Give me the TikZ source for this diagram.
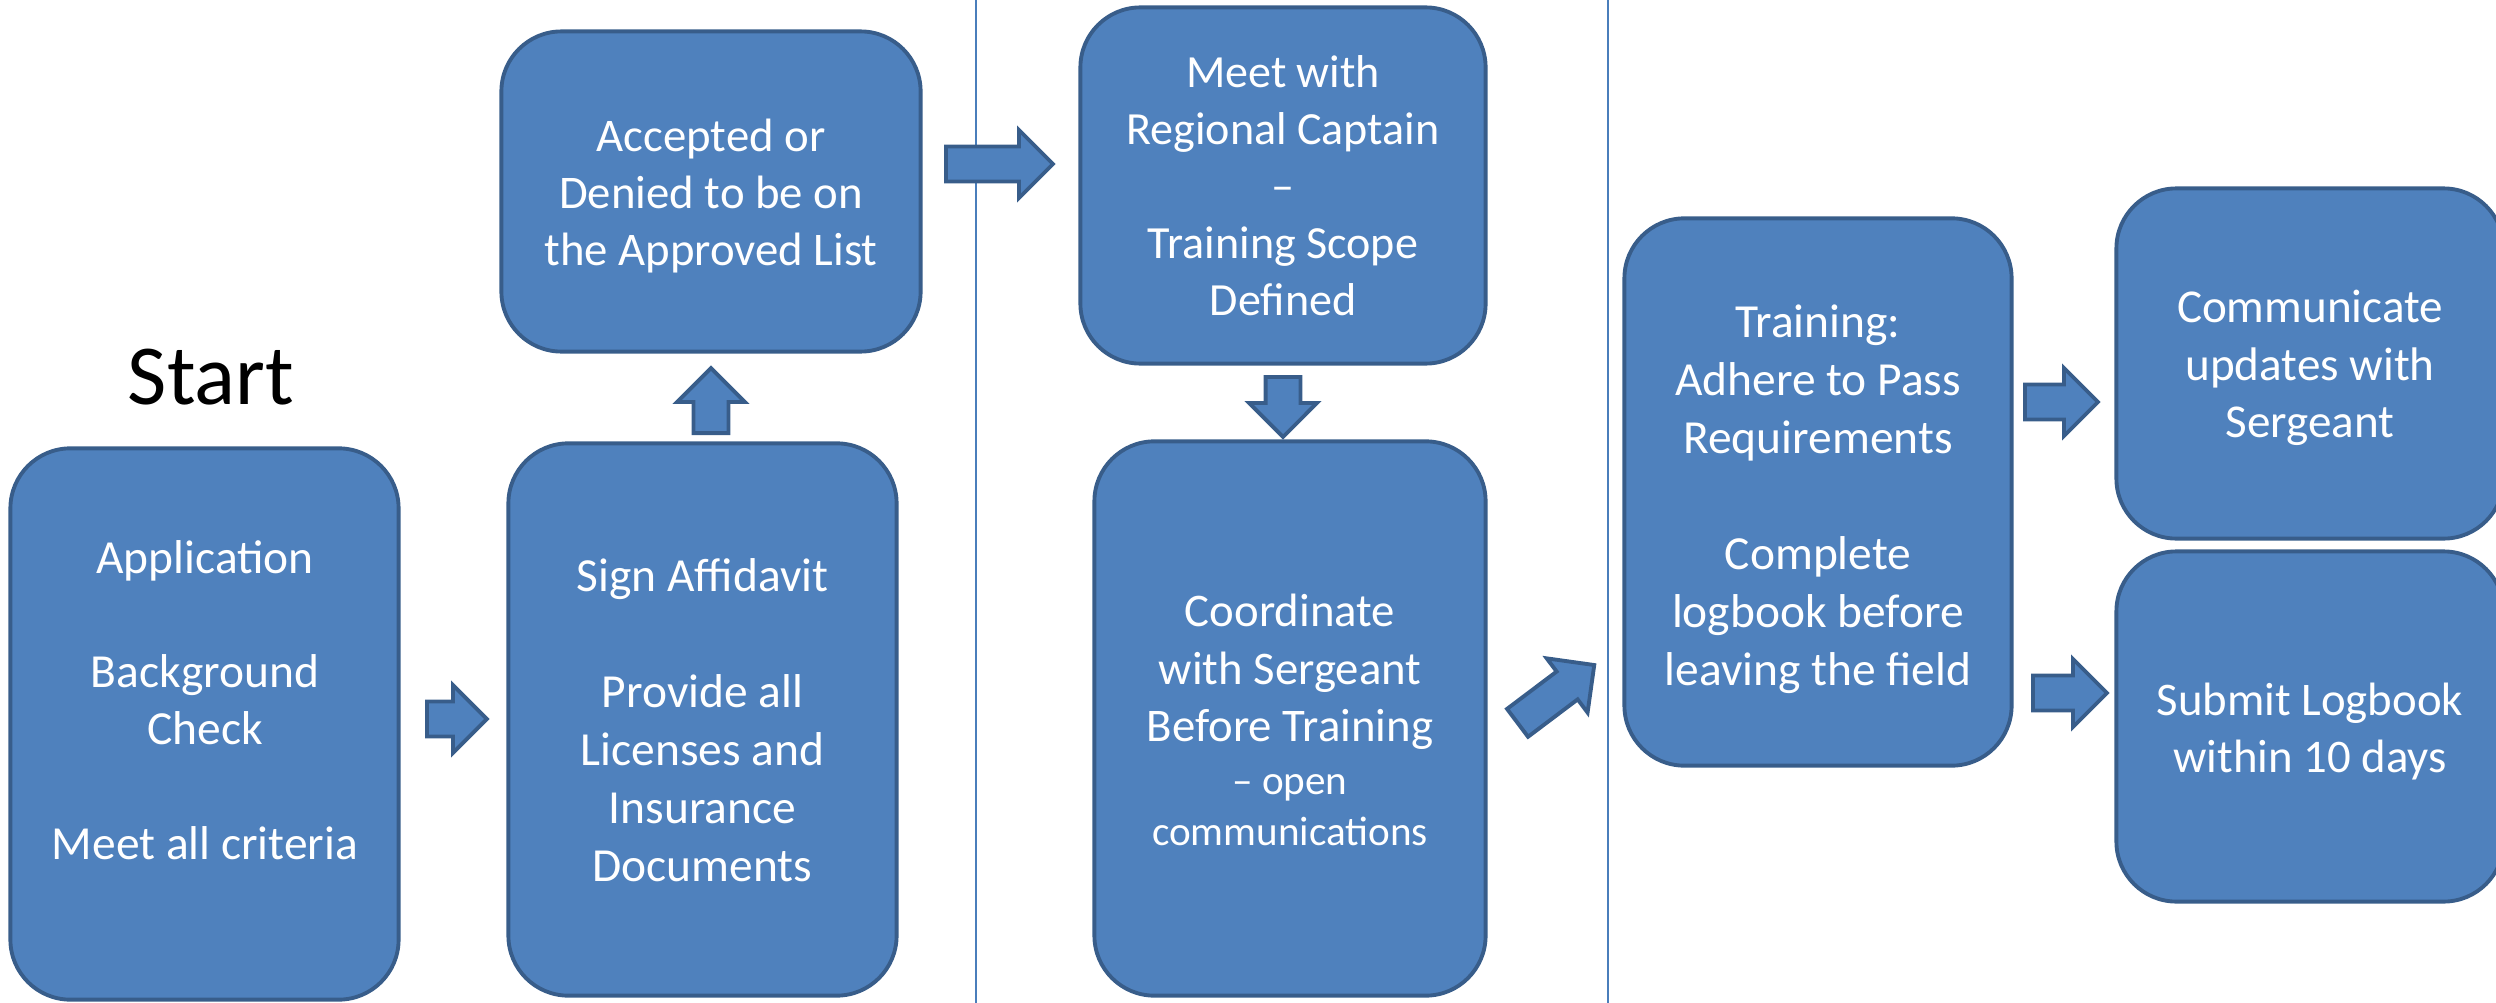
\documentclass[tikz,border=0pt]{standalone}
\usepackage{fontspec}
\setmainfont{Carlito}
\usetikzlibrary{shapes.arrows}
\definecolor{boxfill}{HTML}{4F81BD}
\definecolor{boxline}{HTML}{385D8A}
\definecolor{sepline}{HTML}{4A7EBB}
\newcommand{\fsz}[2]{\fontsize{#1}{#2}\selectfont}
\tikzset{
  stepbox/.style={draw=boxline,fill=boxfill,line width=1.1pt,rounded corners=0.6cm,inner sep=0pt},
  boxtext/.style={text=white,align=center,inner sep=0pt},
  blockarrow/.style={shape=single arrow,draw=boxline,fill=boxfill,line width=1.1pt,
    single arrow head extend=0.165cm,single arrow tip angle=90,
    inner xsep=0pt,inner ysep=0.155cm,anchor=tail}
}
\begin{document}
\begin{tikzpicture}[x=0.01cm,y=-0.01cm]
\useasboundingbox (0,0) rectangle (2496,1003);
\clip (0,0) rectangle (2496,1003);
%column separators
\draw[sepline,line width=0.02cm](976,0)--(976,1003);
\draw[sepline,line width=0.02cm](1608,0)--(1608,1003);
%start
\node[font=\fsz{24.3}{28}] (start) at (211,377) {Start};
%boxes
\node[stepbox,minimum width=3.88cm,minimum height=5.51cm] (app) at (204.5,724) {};
\node[stepbox,minimum width=3.88cm,minimum height=5.52cm] (sign) at (702.5,719.5) {};
\node[stepbox,minimum width=4.19cm,minimum height=3.20cm] (accept) at (711,191.5) {};
\node[stepbox,minimum width=4.05cm,minimum height=3.56cm] (meet) at (1283,185.5) {};
\node[stepbox,minimum width=3.91cm,minimum height=5.54cm] (coord) at (1290,718.5) {};
\node[stepbox,minimum width=3.87cm,minimum height=5.47cm] (train) at (1818,492) {};
\node[stepbox,minimum width=3.87cm,minimum height=3.50cm] (comm) at (2310,363.5) {};
\node[stepbox,minimum width=3.87cm,minimum height=3.50cm] (submit) at (2310,726.5) {};
%box texts
\node[boxtext,font=\fsz{13.5}{16.3}] (apptxt) at (205,700) {Application\\[16.3pt]Background\\Check\\[16.3pt]Meet all criteria};
\node[boxtext,font=\fsz{13.5}{16.5}] (signtxt) at (702.5,720) {Sign Affidavit\\[16.5pt]Provide all\\Licenses and\\Insurance\\Documents};
\node[boxtext,font=\fsz{13.3}{16.2}] (accepttxt) at (711,196) {Accepted or\\Denied to be on\\the Approved List};
\node[boxtext,font=\fsz{13.1}{16.2}] (meettxt) at (1283,186) {Meet with\\Regional Captain\\--\\Training Scope\\Defined};
\node[boxtext,font=\fsz{13.3}{16.5}] (coordtxt) at (1290,720) {Coordinate\\with Sergeant\\[-0.4pt]Before Training\\[-1.3pt]{\fsz{11.7}{14}-- open}\\[-2.1pt]{\fsz{11.7}{14}communications}};
\node[boxtext,font=\fsz{13.5}{16.5}] (traintxt) at (1818,499) {Training:\\Adhere to Pass\\Requirements\\[16.5pt]Complete\\logbook before\\leaving the field};
\node[boxtext,font=\fsz{13.4}{16.3}] (commtxt) at (2310,368) {Communicate\\updates with\\Sergeant};
\node[boxtext,font=\fsz{13.3}{16.2}] (submittxt) at (2310,732) {Submit Logbook\\within 10 days};
%block arrows
\node[blockarrow,minimum height=0.60cm] (a1) at (425,719) {};
\node[blockarrow,minimum height=0.65cm,rotate=90] (a2) at (711,435) {};
\node[blockarrow,minimum height=1.07cm] (a3) at (944,164) {};
\node[blockarrow,minimum height=0.60cm,rotate=-90] (a4) at (1283,375) {};
\node[blockarrow,minimum height=0.96cm,rotate=37] (a5) at (1516,724) {};
\node[blockarrow,minimum height=0.73cm] (a6) at (2023,402) {};
\node[blockarrow,minimum height=0.74cm] (a7) at (2031,693) {};
\end{tikzpicture}
\end{document}
